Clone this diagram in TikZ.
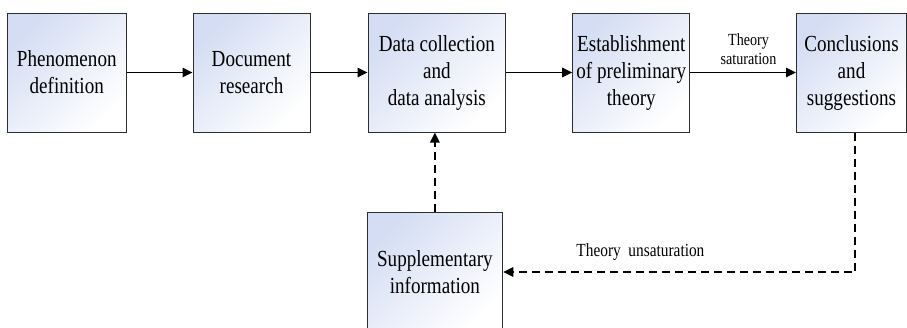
\documentclass[tikz,border=0pt]{standalone}
\usepackage{fontspec}
\setmainfont{Liberation Serif}[FakeStretch=0.83]
\usetikzlibrary{arrows.meta,calc}
\definecolor{boxtop}{RGB}{212,221,243}
\definecolor{boxline}{RGB}{45,45,45}
\begin{document}
\begin{tikzpicture}[x=1pt,y=-1pt,
  stagebox/.style={draw=boxline,line width=1pt,top color=boxtop,bottom color=white,shading angle=45,inner sep=0pt,align=center,font=\fontsize{23}{27}\selectfont},
  flow/.style={line width=1.5pt,-{Triangle[length=10pt,width=9.5pt]}},
  back/.style={flow,dash pattern=on 8pt off 5pt},
  lbl/.style={font=\fontsize{17}{19}\selectfont,align=center,inner sep=0pt}]
\clip (0,0) rectangle (907,327);
\node[stagebox,minimum width=118.5pt,minimum height=119pt] (b1) at (66.75,72.5) {Phenomenon\\definition};
\node[stagebox,minimum width=117pt,minimum height=119pt] (b2) at (251.5,72.5) {Document\\research};
\node[stagebox,minimum width=137.5pt,minimum height=119pt] (b3) at (436.8,72.5) {Data collection\\and\\data analysis};
\node[stagebox,minimum width=117.3pt,minimum height=119pt] (b4) at (631.3,72.5) {Establishment\\of preliminary\\theory};
\node[stagebox,minimum width=110pt,minimum height=119pt] (b5) at (851.5,72.5) {Conclusions\\and\\suggestions};
\node[stagebox,minimum width=135.7pt,minimum height=120pt] (b6) at (434.9,272) {Supplementary\\information};
\draw[flow] (b1) -- (b2);
\draw[flow] (b2) -- (b3);
\draw[flow] (b3) -- (b4);
\draw[flow] (b4) -- (b5) node[pos=0.55,above=7pt,lbl] {Theory\\saturation};
\draw[back] (b6.north) -- (b6.north |- b3.south);
\draw[back] ($(b5.south)+(3.5,0)$) |- (b6.east) node[pos=0.805,above=11pt,lbl,font=\fontsize{18.5}{21}\selectfont] {Theory\ \ unsaturation};
\end{tikzpicture}
\end{document}
